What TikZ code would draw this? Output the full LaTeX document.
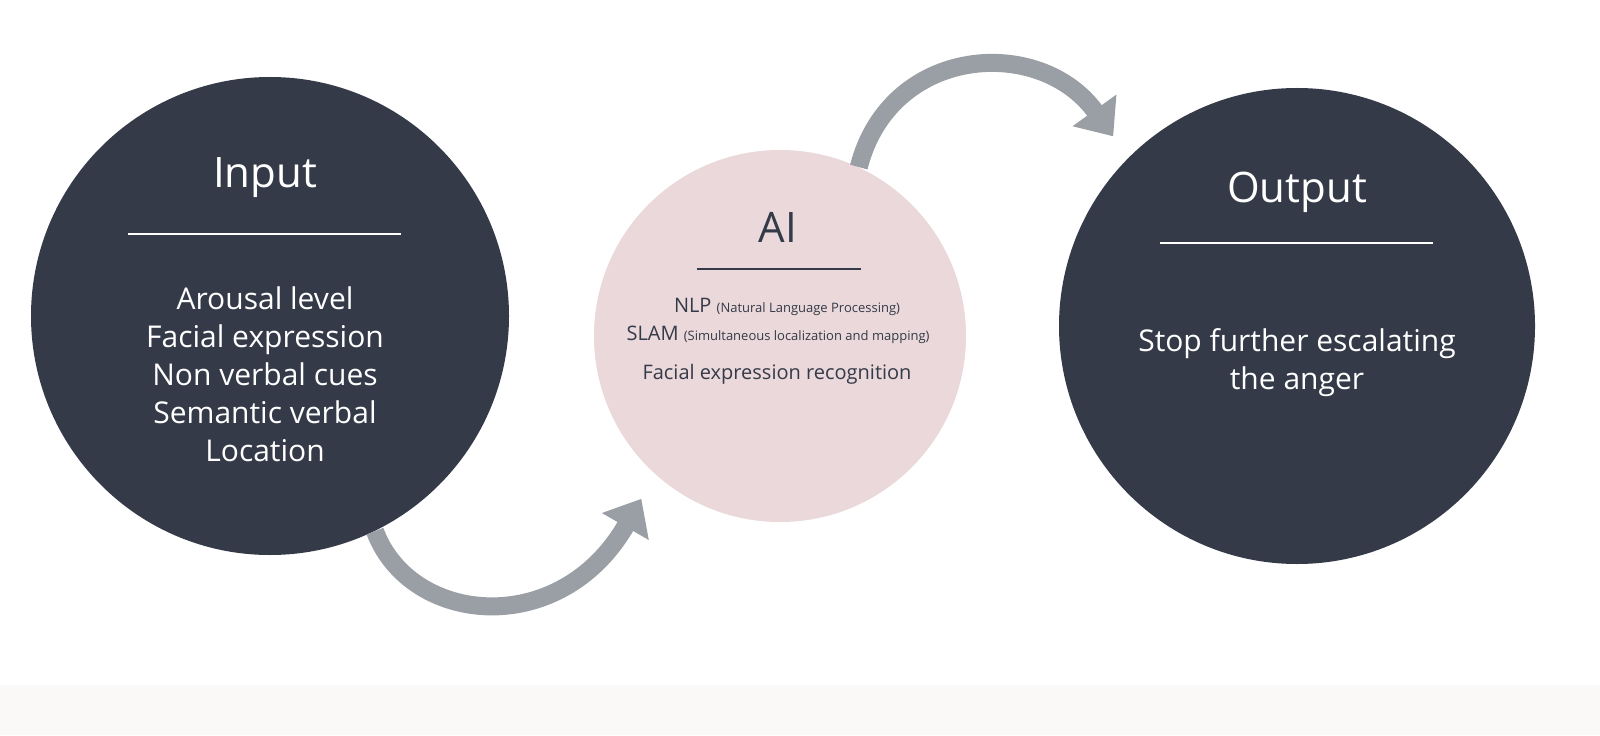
\documentclass[tikz,border=0pt]{standalone}
\usepackage{fontspec}
\setmainfont{Open Sans}
\usetikzlibrary{arrows.meta}
\definecolor{slate}{HTML}{343A48}
\definecolor{blush}{HTML}{EAD8DA}
\definecolor{steel}{HTML}{9A9FA5}
\definecolor{strip}{HTML}{FBF9F7}
\tikzset{
  disc/.style={circle, inner sep=0pt, minimum size=#1},
  flow/.style={steel, line width=9pt, -{Triangle[width=26pt,length=16pt]}},
  title/.style={font=\fontsize{21}{25}\selectfont},
  body/.style={font=\fontsize{15}{19}\selectfont, align=center}
}
\begin{document}
\begin{tikzpicture}[x=0.5pt,y=0.5pt]
    \useasboundingbox (0,0) rectangle (1600,735);
    \fill[white] (0,0) rectangle (1600,735);
    \fill[strip] (0,0) rectangle (1600,50);

    % Circles
    \node[disc=239pt, fill=slate] (in) at (270,419) {};
    \node[disc=186pt, fill=blush] (ai) at (780,399) {};
    \node[disc=238pt, fill=slate] (out) at (1297,409) {};

    % Input
    \node[title, white] (inT) at (265,557) {Input};
    \draw[white, line width=1pt] (128,501) -- (401,501);
    \node[body, white] (inB) at (265,361) {Arousal level\\Facial expression\\Non verbal cues\\Semantic verbal\\Location};

    % AI
    \node[title, slate] (aiT) at (778,508) {AI};
    \draw[slate, line width=1pt] (697,466) -- (861,466);
    \node[slate, font=\fontsize{10}{12}\selectfont] (nlp) at (787,428) {NLP {\fontsize{6.5}{8}\selectfont(Natural Language Processing)}};
    \node[slate, font=\fontsize{10}{12}\selectfont] (slam) at (778,400) {SLAM {\fontsize{6.5}{8}\selectfont(Simultaneous localization and mapping)}};
    \node[slate, font=\fontsize{10}{12}\selectfont] (fer) at (777,361) {Facial expression recognition};

    % Output
    \node[title, white] (outT) at (1297,543) {Output};
    \draw[white, line width=1pt] (1160,492) -- (1433,492);
    \node[body, white] (outB) at (1297,372) {Stop further escalating\\the anger};

    % Arrows
    \draw[flow, shorten >=14pt] (in.-64) .. controls (410,110) and (560,95) .. (ai.-132);
    \draw[flow, shorten >=13pt] (ai.65) .. controls (890,690) and (1040,700) .. (out.135);
\end{tikzpicture}
\end{document}
